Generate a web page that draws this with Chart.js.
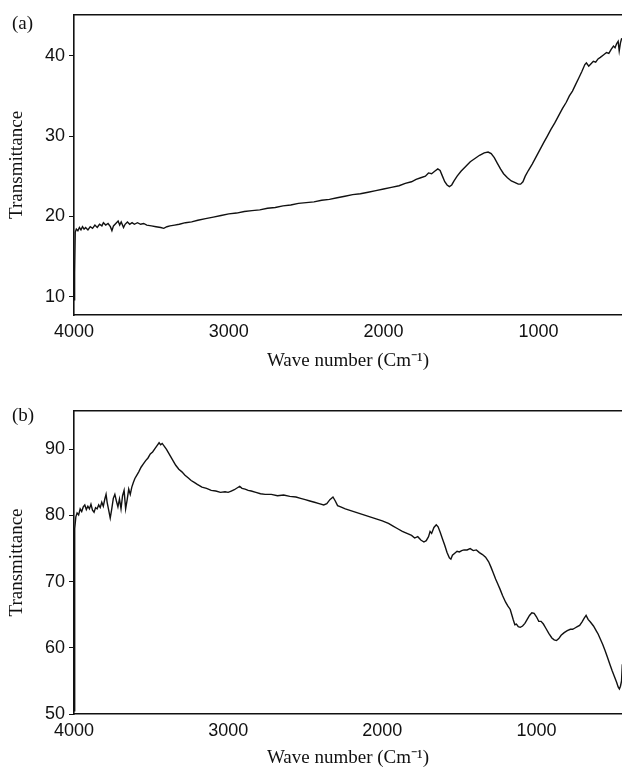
<!DOCTYPE html>
<html>
<head>
<meta charset="utf-8">
<script src="https://cdn.jsdelivr.net/npm/chart.js@4.4.1/dist/chart.umd.min.js"></script>
<style>
  body { margin: 0; background: #fff; width: 622px; height: 769px; position: relative; overflow: hidden; }
  canvas { display: block; }
  .panel-tag { position: absolute; left: 12px; font: 19px "Liberation Serif", "Times New Roman", serif; color: #111; }
</style>
</head>
<body>
<div class="panel-tag" style="top: 12px;">(a)</div>
<canvas id="espectro-a" width="622" height="385"></canvas>
<div class="panel-tag" style="top: 404px;">(b)</div>
<canvas id="espectro-b" width="622" height="384"></canvas>
<script>
// ticks
const ticksOnda = [4000, 3000, 2000, 1000];
const ticksTransA = [10, 20, 30, 40];
const ticksTransB = [50, 60, 70, 80, 90];

// espectro (a)
const ondaA = [4000, 3996, 3992, 3985, 3975, 3965, 3955, 3945, 3935, 3925, 3910, 3895, 3880, 3865, 3850, 3835, 3820, 3810, 3795, 3780,
  3765, 3755, 3745, 3730, 3715, 3705, 3695, 3680, 3670, 3655, 3640, 3625, 3610, 3590, 3570, 3550, 3530, 3500, 3470, 3440,
  3420, 3400, 3380, 3350, 3320, 3280, 3240, 3200, 3150, 3100, 3050, 3000, 2950, 2900, 2850, 2800, 2750, 2700, 2650, 2600,
  2550, 2500, 2450, 2400, 2350, 2300, 2250, 2200, 2150, 2100, 2050, 2000, 1950, 1900, 1860, 1820, 1790, 1760, 1730, 1710,
  1690, 1670, 1650, 1635, 1620, 1605, 1590, 1575, 1560, 1545, 1525, 1500, 1470, 1440, 1410, 1380, 1350, 1325, 1305, 1285,
  1265, 1245, 1225, 1200, 1175, 1150, 1130, 1115, 1100, 1085, 1065, 1040, 1015, 990, 965, 945, 920, 895, 870, 845,
  820, 800, 780, 760, 740, 720, 700, 690, 675, 660, 645, 630, 615, 600, 580, 560, 545, 530, 515, 505,
  495, 485, 478, 470, 462];
const transA = [9.6, 13.0, 18.0, 18.4, 18.2, 18.6, 18.3, 18.7, 18.4, 18.6, 18.3, 18.7, 18.5, 18.9, 18.6, 19.0, 18.8, 19.2, 18.9, 19.1,
  18.7, 18.2, 18.8, 19.1, 19.4, 18.9, 19.3, 18.6, 19.0, 19.3, 19.0, 19.2, 19.0, 19.2, 19.0, 19.1, 18.9, 18.8, 18.7, 18.6,
  18.5, 18.7, 18.8, 18.9, 19.0, 19.2, 19.3, 19.5, 19.7, 19.9, 20.1, 20.3, 20.4, 20.6, 20.7, 20.8, 21.0, 21.1, 21.3, 21.4,
  21.6, 21.7, 21.8, 22.0, 22.1, 22.3, 22.5, 22.7, 22.8, 23.0, 23.2, 23.4, 23.6, 23.8, 24.1, 24.3, 24.6, 24.8, 25.0, 25.4,
  25.3, 25.6, 25.9, 25.7, 25.0, 24.3, 23.9, 23.7, 23.9, 24.4, 25.0, 25.6, 26.2, 26.8, 27.2, 27.6, 27.9, 28.0, 27.8, 27.3,
  26.6, 25.9, 25.3, 24.8, 24.4, 24.2, 24.0, 24.0, 24.3, 25.0, 25.7, 26.5, 27.4, 28.3, 29.2, 29.9, 30.8, 31.6, 32.5, 33.4,
  34.2, 35.0, 35.6, 36.4, 37.2, 38.0, 38.9, 39.1, 38.7, 39.0, 39.3, 39.2, 39.6, 39.8, 40.1, 40.4, 40.3, 40.8, 41.2, 41.0,
  41.5, 41.8, 40.6, 41.6, 42.2];

// espectro (b)
const ondaB = [4000, 3997, 3994, 3988, 3980, 3970, 3960, 3950, 3940, 3930, 3920, 3910, 3900, 3890, 3880, 3870, 3860, 3850, 3840, 3830,
  3820, 3810, 3800, 3792, 3785, 3775, 3765, 3755, 3745, 3735, 3725, 3715, 3705, 3695, 3685, 3675, 3665, 3655, 3645, 3635,
  3625, 3615, 3605, 3595, 3580, 3565, 3550, 3535, 3520, 3505, 3490, 3475, 3460, 3448, 3438, 3428, 3415, 3400, 3385, 3370,
  3355, 3340, 3320, 3300, 3280, 3260, 3240, 3220, 3200, 3170, 3140, 3110, 3080, 3050, 3020, 3000, 2980, 2960, 2940, 2925,
  2910, 2890, 2870, 2850, 2820, 2790, 2760, 2720, 2680, 2640, 2600, 2560, 2530, 2500, 2470, 2440, 2410, 2380, 2360, 2340,
  2320, 2305, 2290, 2270, 2240, 2200, 2160, 2120, 2080, 2040, 2000, 1960, 1930, 1900, 1870, 1840, 1810, 1790, 1770, 1750,
  1730, 1715, 1700, 1690, 1680, 1665, 1650, 1638, 1625, 1610, 1595, 1580, 1565, 1555, 1545, 1530, 1515, 1500, 1485, 1470,
  1450, 1430, 1410, 1390, 1370, 1350, 1330, 1310, 1295, 1280, 1265, 1250, 1235, 1220, 1200, 1185, 1170, 1160, 1150, 1140,
  1130, 1118, 1105, 1090, 1075, 1060, 1045, 1030, 1015, 1000, 985, 970, 955, 940, 920, 900, 885, 870, 855, 840,
  820, 800, 780, 765, 750, 735, 720, 705, 690, 678, 665, 650, 640, 630, 620, 610, 600, 585, 570, 555,
  540, 525, 510, 495, 480, 470, 462, 455, 448, 443];
const transB = [50.5, 64.0, 78.0, 79.8, 80.4, 80.1, 81.0, 80.6, 81.3, 81.6, 80.9, 81.4, 81.0, 81.7, 80.8, 80.5, 81.2, 81.0, 81.6, 81.2,
  82.0, 81.4, 82.5, 83.2, 82.0, 80.8, 79.6, 81.0, 82.6, 83.2, 82.2, 81.3, 82.5, 81.0, 83.0, 83.8, 81.0, 82.4, 84.0, 83.2,
  84.3, 85.0, 85.6, 86.0, 86.6, 87.3, 87.8, 88.3, 88.7, 89.3, 89.6, 90.1, 90.6, 91.0, 90.7, 90.9, 90.5, 90.0, 89.4, 88.8,
  88.2, 87.6, 87.0, 86.6, 86.1, 85.7, 85.3, 85.0, 84.7, 84.3, 84.1, 83.8, 83.7, 83.5, 83.6, 83.5, 83.7, 83.9, 84.2, 84.4,
  84.1, 84.0, 83.8, 83.7, 83.5, 83.3, 83.2, 83.2, 83.0, 83.1, 82.9, 82.8, 82.6, 82.4, 82.2, 82.0, 81.8, 81.6, 81.8, 82.4,
  82.8, 82.2, 81.5, 81.3, 81.0, 80.7, 80.4, 80.1, 79.8, 79.5, 79.2, 78.8, 78.4, 78.0, 77.6, 77.3, 77.0, 76.6, 76.8, 76.3,
  76.0, 76.2, 76.8, 77.6, 77.3, 78.2, 78.6, 78.3, 77.5, 76.5, 75.5, 74.4, 73.6, 73.4, 74.0, 74.3, 74.6, 74.5, 74.7, 74.8,
  74.8, 75.0, 74.7, 74.8, 74.4, 74.1, 73.7, 73.0, 72.2, 71.3, 70.4, 69.6, 68.8, 67.9, 66.9, 66.3, 65.8, 65.0, 64.2, 63.5,
  63.6, 63.2, 63.1, 63.3, 63.7, 64.3, 64.9, 65.3, 65.2, 64.7, 64.0, 64.0, 63.6, 63.0, 62.2, 61.5, 61.2, 61.1, 61.4, 61.9,
  62.3, 62.6, 62.8, 62.8, 63.0, 63.2, 63.4, 63.9, 64.5, 64.9, 64.3, 63.9, 63.6, 63.3, 62.9, 62.5, 62.1, 61.3, 60.5, 59.6,
  58.6, 57.6, 56.6, 55.7, 54.8, 54.1, 53.8, 54.2, 55.0, 57.5];

const negro = '#111';
const fuenteSans = "'Liberation Sans', Arial, sans-serif";
const fuenteSerif = "'Liberation Serif', 'Times New Roman', serif";

function crearEspectro(id, onda, trans, cfg) {
  const puntos = onda.map((w, i) => ({ x: w, y: trans[i] }));
  const ctx = document.getElementById(id);

  return new Chart(ctx, {
    type: 'line',
    data: {
      datasets: [{
        data: puntos,
        borderColor: negro,
        borderWidth: 1.4,
        pointRadius: 0,
        tension: 0,
        xAxisID: 'x',
        yAxisID: 'y'
      }]
    },
    options: {
      responsive: false,
      animation: false,
      events: [],
      layout: {
        padding: { top: cfg.arriba, right: 0, bottom: 0, left: 0 }
      },
      plugins: {
        legend: { display: false },
        tooltip: { enabled: false }
      },
      scales: {
        x: {
          type: 'linear',
          position: 'bottom',
          reverse: true,
          min: cfg.xMin,
          max: 4000,
          afterBuildTicks: (eje) => { eje.ticks = ticksOnda.map((v) => ({ value: v })); },
          afterFit: (eje) => { eje.height = cfg.altoX; },
          ticks: {
            color: negro,
            padding: 6,
            maxRotation: 0,
            autoSkip: false,
            callback: (v) => String(v),
            font: { family: fuenteSans, size: 18 }
          },
          grid: { display: false, drawTicks: false },
          border: { display: true, color: negro, width: 1.6 },
          title: {
            display: true,
            text: 'Wave number (Cm⁻¹)',
            color: negro,
            font: { family: fuenteSerif, size: 19 },
            padding: { top: 0, bottom: cfg.padTitulo }
          }
        },
        xArriba: {
          type: 'linear',
          position: 'top',
          reverse: true,
          min: cfg.xMin,
          max: 4000,
          afterFit: (eje) => { eje.height = 0; },
          ticks: { display: false },
          grid: { display: false, drawTicks: false },
          border: { display: true, color: negro, width: 1.6 }
        },
        y: {
          type: 'linear',
          min: cfg.yMin,
          max: cfg.yMax,
          afterBuildTicks: (eje) => { eje.ticks = cfg.yTicks.map((v) => ({ value: v })); },
          afterFit: (eje) => { eje.width = 74; },
          ticks: {
            color: negro,
            padding: 4,
            callback: (v) => String(v),
            font: { family: fuenteSans, size: 18 }
          },
          grid: { drawOnChartArea: false, drawTicks: true, tickLength: 5, color: negro },
          border: { display: true, color: negro, width: 1.6 },
          title: {
            display: true,
            text: 'Transmittance',
            color: negro,
            font: { family: fuenteSerif, size: 19 },
            padding: { top: 6, bottom: 0 }
          }
        }
      }
    }
  });
}

crearEspectro('espectro-a', ondaA, transA, {
  xMin: 460, yMin: 7.7, yMax: 45.1, yTicks: ticksTransA, arriba: 14, altoX: 70, padTitulo: 13
});

crearEspectro('espectro-b', ondaB, transB, {
  xMin: 445, yMin: 50, yMax: 95.8, yTicks: ticksTransB, arriba: 26, altoX: 55, padTitulo: 0
});
</script>
</body>
</html>
